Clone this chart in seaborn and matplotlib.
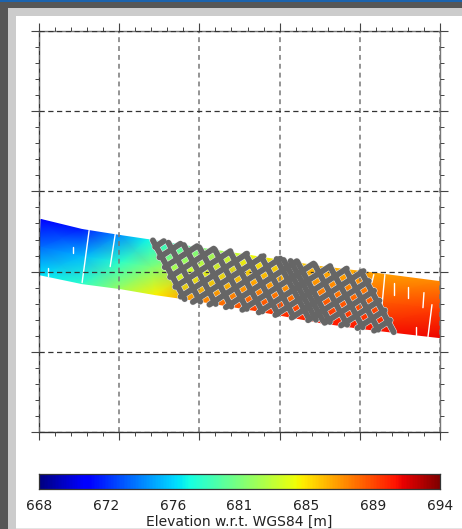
#!/usr/bin/env python3
"""
Elevation swath map with the ground-track lattice over it
"""

import matplotlib
matplotlib.use("Agg")
import matplotlib.pyplot as plt
from matplotlib.patches import Rectangle
from matplotlib.ticker import MultipleLocator
import seaborn as sns
import numpy as np
import pandas as pd

# ============================================================================
# DATA
# ============================================================================

# swath outline at a few along-track stations
top_x = [2, 43, 81, 108, 151, 211, 281, 323, 400]
top_y = [212, 202, 196, 192, 185, 176, 165, 160, 150]
bot_x = [0, 43, 81, 116, 151, 211, 281, 323, 401]
bot_y = [157, 148, 143, 137, 132, 122, 109, 103, 94]

# elevation at the top edge, the middle and the bottom edge of the swath [m]
elev_top = [671, 672, 675, 677.5, 680, 684.5, 686.5, 687, 688]
elev_mid = [674, 676, 678.5, 681, 684, 687, 688.5, 689, 690]
elev_bot = [677, 678.5, 682, 685, 687.5, 690, 691, 691, 691.5]

# gaps in the swath
gap_x0 = [50, 9, 76, 34, 345, 334, 392, 384, 376, 354, 368]
gap_y0 = [201, 164, 197, 185, 157, 157, 127, 139, 105, 149, 145]
gap_x1 = [43, 9, 71, 34, 342, 332, 388, 383, 376, 354, 368]
gap_y1 = [149, 156, 165, 179, 125, 149, 95, 124, 97, 137, 134]

# tracks running across the swath
cross_x0 = [113.6, 129.1, 144.5, 159.9, 175.4, 190.8, 206.2, 221.7, 237.1, 244.0, 251.0, 257.9, 275.0, 290.5, 305.9, 321.3]
cross_y0 = [191.1, 188.8, 186.5, 184.2, 181.9, 179.6, 177.3, 175.0, 172.6, 171.6, 170.6, 169.5, 167.0, 164.6, 162.3, 160.0]
cross_x1 = [145.3, 160.8, 176.3, 191.8, 207.3, 222.8, 238.3, 253.8, 269.3, 276.3, 283.3, 290.2, 307.4, 322.9, 338.4, 353.9]
cross_y1 = [132.6, 130.1, 127.7, 125.2, 122.8, 120.3, 117.9, 115.4, 113.0, 111.9, 110.8, 109.7, 107.0, 104.5, 102.1, 99.6]

# tracks running the other way
along_x0 = [115.8, 120.1, 125.4, 130.7, 136.0, 141.3, 153.5, 170.0, 186.4, 202.8, 219.2, 235.7, 252.1, 268.4, 284.9, 301.3, 317.7, 334.2]
along_y0 = [184.6, 174.2, 164.4, 154.6, 144.8, 135.0, 129.7, 127.1, 124.5, 121.9, 119.3, 116.7, 114.1, 111.5, 108.9, 106.3, 103.7, 101.1]
along_x1 = [124.5, 141.1, 157.7, 174.3, 190.9, 207.5, 224.0, 240.7, 257.2, 273.9, 290.4, 307.0, 323.7, 329.0, 334.3, 339.6, 344.9, 350.2]
along_y1 = [190.4, 187.8, 185.4, 182.9, 180.4, 177.9, 175.4, 173.0, 170.4, 168.0, 165.5, 163.0, 160.5, 150.7, 140.9, 131.1, 121.3, 111.5]

cbar_min = 668
cbar_max = 694
cbar_labels = ["668", "672", "676", "681", "685", "689", "694"]
cbar_title = "Elevation w.r.t. WGS84 [m]"


def segments(x0, y0, x1, y1, start=0):
    rows = []
    for i in range(len(x0)):
        rows.append({"track": start + i, "order": 0, "x": x0[i], "y": y0[i]})
        rows.append({"track": start + i, "order": 1, "x": x1[i], "y": y1[i]})
    return pd.DataFrame(rows)


# ============================================================================
# FIGURE
# ============================================================================

W, H = 462, 529
sns.set_style("white")
plt.rcParams["font.family"] = "DejaVu Sans"

fig = plt.figure(figsize=(W / 100, H / 100), dpi=100, facecolor="white")


def band(x0, y0, x1, y1, color):
    # window frame, given in pixels from the top left
    fig.patches.append(Rectangle((x0 / W, 1 - y1 / H), (x1 - x0) / W, (y1 - y0) / H,
                                 transform=fig.transFigure, color=color, lw=0, figure=fig))


band(0, 0, 8, H, "#565656")
band(0, 0, W, 8, "#565656")
band(0, 0, W, 1.5, "#1c63ad")
band(8, 8, 16, H, "#cccccc")
band(8, 8, W, 16, "#cccccc")
band(16, H - 1.5, W, H, "#e4e4e4")

ax = fig.add_axes([39 / W, 1 - 432 / H, 401 / W, 401 / H])

# ----------------------------------------------------------------------------
# Swath
# ----------------------------------------------------------------------------
top_x_a, top_y_a = np.array(top_x, float), np.array(top_y, float)
bot_x_a, bot_y_a = np.array(bot_x, float), np.array(bot_y, float)
X = np.vstack([top_x_a, (top_x_a + bot_x_a) / 2, bot_x_a])
Y = np.vstack([top_y_a, (top_y_a + bot_y_a) / 2, bot_y_a])
Z = np.vstack([elev_top, elev_mid, elev_bot])
ax.pcolormesh(X, Y, Z, shading="gouraud", cmap="jet", vmin=cbar_min, vmax=cbar_max, zorder=1)

sns.lineplot(data=segments(gap_x0, gap_y0, gap_x1, gap_y1), x="x", y="y", units="track",
             estimator=None, sort=False, color="white", linewidth=1.0, zorder=2, ax=ax)

# ----------------------------------------------------------------------------
# Tracks: pale halo first, then the grey line
# ----------------------------------------------------------------------------
tracks = pd.concat([segments(cross_x0, cross_y0, cross_x1, cross_y1),
                    segments(along_x0, along_y0, along_x1, along_y1, start=100)],
                   ignore_index=True)

sns.lineplot(data=tracks, x="x", y="y", units="track", estimator=None, sort=False,
             color="#eeeeee", linewidth=4.9, solid_capstyle="round", zorder=3, ax=ax)
sns.lineplot(data=tracks, x="x", y="y", units="track", estimator=None, sort=False,
             color="#666666", linewidth=4.2, solid_capstyle="round", zorder=3.1, ax=ax)

# ----------------------------------------------------------------------------
# Axes
# ----------------------------------------------------------------------------
ax.set_xlim(0, 400)
ax.set_ylim(0, 400)
ax.set_xlabel("")
ax.set_ylabel("")
ax.xaxis.set_major_locator(MultipleLocator(80))
ax.yaxis.set_major_locator(MultipleLocator(80))
ax.xaxis.set_minor_locator(MultipleLocator(16))
ax.yaxis.set_minor_locator(MultipleLocator(16))
ax.tick_params(which="major", direction="out", length=5.8, width=0.8, color="#444444",
               top=True, right=True, bottom=True, left=True,
               labelbottom=False, labelleft=False)
ax.tick_params(which="minor", direction="out", length=2.9, width=0.7, color="#444444",
               top=True, right=True, bottom=True, left=True)

ax.set_axisbelow(False)
ax.grid(True, which="major", axis="x", color="#777777", linewidth=1.1, linestyle=(0, (3.2, 2.6)))
ax.grid(True, which="major", axis="y", color="#333333", linewidth=0.9, linestyle=(0, (4.2, 2.8)))

ax.spines["left"].set_color("#333333")
ax.spines["bottom"].set_color("#333333")
ax.spines["top"].set_color("#777777")
ax.spines["right"].set_color("#777777")
for s in ax.spines.values():
    s.set_visible(True)
    s.set_linewidth(1.0)

# ----------------------------------------------------------------------------
# Colour bar
# ----------------------------------------------------------------------------
cax = fig.add_axes([39 / W, 1 - 489 / H, 401 / W, 15 / H])
ramp = np.linspace(cbar_min, cbar_max, 256).reshape(1, -1)
sns.heatmap(ramp, ax=cax, cmap="jet", vmin=cbar_min, vmax=cbar_max, cbar=False,
            xticklabels=False, yticklabels=False)
cax.set_xticks(np.linspace(0, 256, len(cbar_labels)))
cax.set_xticklabels(cbar_labels, fontsize=9.9, color="#222222")
cax.set_xticks(np.linspace(0, 256, 13), minor=True)
cax.tick_params(which="both", direction="in", length=2.2, width=0.7, color="#222222",
                top=True, bottom=True, pad=7.5)
for s in cax.spines.values():
    s.set_visible(True)
    s.set_linewidth(0.9)
    s.set_color("#333333")

fig.text(239 / W, 1 - 522 / H, cbar_title, ha="center", va="center", fontsize=10, color="#222222")

fig.savefig("out.png", dpi=100, facecolor="white")
print("Saved out.png")
